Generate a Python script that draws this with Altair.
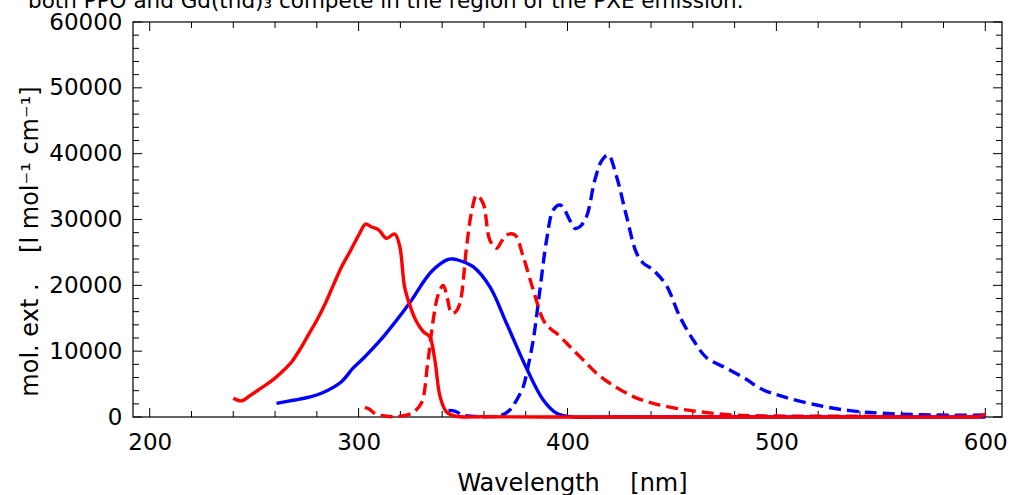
import altair as alt
import pandas as pd

# ---------------- data ----------------
title_text = "both PPO and Gd(thd)\u2083 compete in the region of the PXE emission."
x_title = "Wavelength\u00a0\u00a0\u00a0\u00a0[nm]"
y_title = "mol. ext .\u00a0\u00a0\u00a0\u00a0[l mol\u207b\u00b9 cm\u207b\u00b9]"

x_major = [200, 300, 400, 500, 600]
x_minor = [220, 240, 260, 280, 320, 340, 360, 380, 420, 440, 460, 480, 520, 540, 560, 580]
y_major = [0, 10000, 20000, 30000, 40000, 50000, 60000]
y_minor = [v for v in range(2000, 60000, 2000) if v % 10000 != 0]

# red solid (absorption)
red_abs_wl = [240, 244, 248, 252, 256, 260, 264, 268, 272, 276, 280, 284, 288, 292, 296,
              300.5, 303.3, 306, 309.7, 313.3, 317.3, 319.7, 322, 324.5, 327.7, 331, 334,
              336.5, 339, 342, 346, 360, 400, 450, 500, 550, 590, 598, 600]
red_abs_v = [2850, 2450, 3250, 4100, 4950, 5900, 7050, 8400, 10300, 12500, 14700, 17200,
             20100, 22900, 25200, 27900, 29300, 28900, 28400, 27150, 27800, 25900, 19800,
             17000, 14500, 12950, 12200, 8650, 3100, 800, 150, 30, 0, 0, 0, 0, 0, 100, 450]

# blue solid (absorption)
blue_abs_wl = [260.7, 269.4, 276, 282.2, 291.8, 297, 303, 312.5, 323.7, 334.9, 342.9, 345.3,
               349, 354.8, 362.8, 370.8, 380.4, 388.4, 394.8, 401, 420, 500, 600]
blue_abs_v = [2080, 2580, 3000, 3600, 5360, 7300, 9160, 12450, 17000, 22100, 23950, 24000,
              23700, 22830, 19800, 14230, 7400, 2580, 560, 50, 0, 0, 0]

# red dashed (emission)
red_em_wl = [303, 305, 308, 312.5, 318, 325.3, 330, 333, 335.7, 338, 340.5, 342.5, 344.5,
             346.5, 348.5, 351.7, 354, 356.5, 359.6, 362.8, 366, 368.5, 370.8, 374.8, 378.8,
             383.6, 388.4, 391.6, 394.8, 399.6, 402.7, 409.1, 413.9, 420.3, 431.5, 441, 452.2,
             463.4, 479.3, 500, 550, 600]
red_em_v = [1470, 1200, 500, 150, 50, 560, 2080, 8000, 14700, 18500, 20000, 18000, 15750,
            16000, 17270, 25870, 31000, 33700, 32460, 26890, 25630, 26700, 27650, 27650, 24350,
            19300, 14730, 13470, 12700, 11200, 10200, 8150, 6640, 5120, 3100, 2080, 1320, 800,
            300, 150, 100, 100]

# blue dashed (emission)
blue_em_wl = [343, 346, 350, 355, 362, 368, 372.4, 375.5, 378.8, 381, 383.6, 386.8, 390,
              393.2, 396.4, 398.5, 401.1, 403.5, 405.9, 409.1, 413.1, 416.5, 419.5, 423.5,
              428.3, 433.1, 436.5, 439.5, 442.7, 447.5, 453.8, 460.2, 466.6, 476.2, 485.8,
              492.1, 503.3, 519.3, 535.2, 551.2, 575.1, 600]
blue_em_v = [1000, 900, 300, 100, 50, 200, 1060, 2500, 4600, 7500, 11700, 19300, 26900,
             31440, 32200, 31500, 29900, 28660, 28900, 30430, 36000, 39000, 39800, 36500,
             30430, 24860, 23300, 22700, 21800, 19900, 15230, 11700, 9000, 7400, 5700, 4360,
             3080, 1820, 960, 560, 300, 300]

# ---------------- chart ----------------
FONT = "DejaVu Sans"
W, H = 869, 395
LABEL_FS = 23
TITLE_FS = 24

xscale = alt.Scale(domain=[192, 608], nice=False, zero=False)
yscale = alt.Scale(domain=[0, 60000], nice=False)

xaxis = alt.Axis(values=x_major, ticks=False, tickSize=0, domain=False, grid=False,
                 labelFontSize=LABEL_FS, labelFont=FONT, labelColor="black",
                 labelBaseline="alphabetic", labelPadding=32, labelFlush=False,
                 title=x_title, titleFont=FONT, titleFontSize=TITLE_FS, titleFontWeight="normal",
                 titleColor="black", titleX=439, titleY=73, titleBaseline="alphabetic",
                 titleAnchor="middle")
yaxis = alt.Axis(values=y_major, ticks=False, tickSize=0, domain=False, grid=False,
                 labelFontSize=LABEL_FS, labelFont=FONT, labelColor="black",
                 labelPadding=11, labelFlush=False, labelBaseline="middle", format="d",
                 title=y_title, titleFont=FONT, titleFontSize=TITLE_FS, titleFontWeight="normal",
                 titleColor="black", titleX=-103, titleY=219, titleAngle=270,
                 titleBaseline="middle", titleAlign="center")


def X(f):
    return alt.X(f, type="quantitative", scale=xscale, axis=xaxis)


def Y(f):
    return alt.Y(f, type="quantitative", scale=yscale, axis=yaxis)


def line(wl, v, color, dash=None):
    df = pd.DataFrame({"wl": wl, "v": v})
    kw = dict(color=color, strokeWidth=3.4, interpolate="catmull-rom")
    if dash:
        kw["strokeDash"] = dash
    return alt.Chart(df).mark_line(**kw).encode(x=X("wl"), y=Y("v"))


lines = [
    line(blue_em_wl, blue_em_v, "#0000ff", [12, 6]),
    line(red_em_wl, red_em_v, "#ff0000", [12, 6]),
    line(blue_abs_wl, blue_abs_v, "#0000ff"),
    line(red_abs_wl, red_abs_v, "#ff0000"),
]

tick_layers = []
for vals, L in [(x_major, 9), (x_minor, 6)]:
    d = pd.DataFrame({"wl": vals})
    base = alt.Chart(d).mark_rule(color="black", strokeWidth=1)
    tick_layers.append(base.encode(x=X("wl"), y=alt.value(H), y2=alt.value(H - L)))
    tick_layers.append(base.encode(x=X("wl"), y=alt.value(0), y2=alt.value(L)))
for vals, L in [(y_major, 9), (y_minor, 6)]:
    d = pd.DataFrame({"v": vals})
    base = alt.Chart(d).mark_rule(color="black", strokeWidth=1)
    tick_layers.append(base.encode(y=Y("v"), x=alt.value(0), x2=alt.value(L)))
    tick_layers.append(base.encode(y=Y("v"), x=alt.value(W), x2=alt.value(W - L)))

title_df = pd.DataFrame({"t": [title_text]})
title_layer = alt.Chart(title_df).mark_text(
    align="left", baseline="alphabetic", fontSize=21.5, font=FONT, color="black"
).encode(x=alt.value(-105), y=alt.value(-14.5), text="t:N")

chart = alt.layer(*tick_layers, *lines, title_layer).properties(
    width=W, height=H,
    autosize=alt.AutoSizeParams(type="none"),
    padding={"left": 133, "top": 22, "right": 9, "bottom": 78},
    background="white",
).configure_view(stroke="#333333", strokeWidth=1.5)

chart.save("out.html", embed_options={"renderer": "svg", "actions": False})
